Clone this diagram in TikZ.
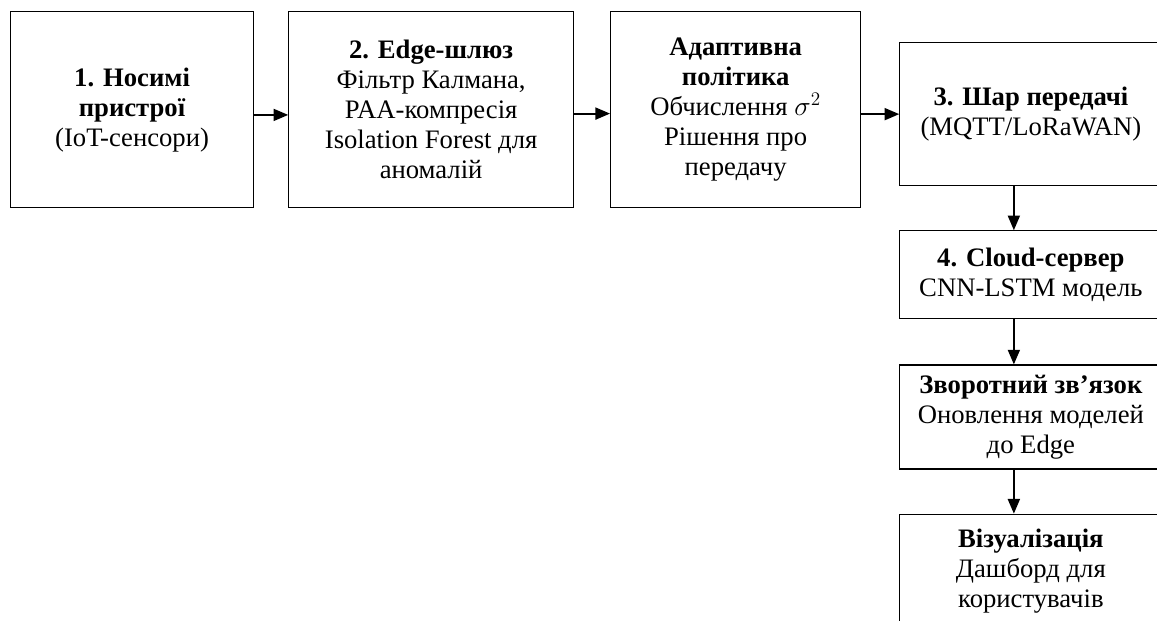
\documentclass[tikz,border=0pt]{standalone}
\usepackage{fontspec}
\setmainfont{Liberation Serif}
\usetikzlibrary{positioning,arrows.meta}

\begin{document}
\begin{tikzpicture}
    \tikzstyle{every path}=[line width=0.9pt]

    \edef\sizerow{147pt}
    \tikzstyle{stage}=[draw,align=center,inner sep=2pt,
                       font=\fontsize{20}{22.5}\selectfont]
    \tikzstyle{sidestage}=[stage,minimum width=196.5pt]
    \tikzstyle{flow}=[line width=1.4pt,-{Triangle[length=11pt,width=9pt]}]

    \useasboundingbox (0,0) rectangle (867.75pt,-465.75pt);

    % Draw top row of stages
    \node [stage,anchor=north west,minimum width=182.25pt,minimum height=\sizerow]
        at (7.5pt,-8.25pt) (wear)
        {\textbf{1. Носимі}\\\textbf{пристрої}\\(IoT-сенсори)};
    \node [stage,right=25.5pt of wear,minimum width=213.5pt,minimum height=\sizerow] (edge)
        {\textbf{2. Edge-шлюз}\\Фільтр Калмана,\\PAA-компресія\\Isolation Forest для\\аномалій};
    \node [stage,right=27pt of edge,minimum width=187.5pt,minimum height=\sizerow] (policy)
        {\textbf{Адаптивна}\\\textbf{політика}\\Обчислення $\sigma^2$\\Рішення про\\передачу};

    % Draw right column of stages
    \node [sidestage,right=28.5pt of policy,yshift=-3.4pt,minimum height=107.25pt] (trans)
        {\textbf{3. Шар передачі}\\(MQTT/LoRaWAN)};
    \node [sidestage,below=33pt of trans,minimum height=66pt] (cloud)
        {\textbf{4. Cloud-сервер}\\CNN-LSTM модель};
    \node [sidestage,below=33.75pt of cloud,minimum height=78pt] (feedback)
        {\textbf{Зворотний зв’язок}\\Оновлення моделей\\до Edge};
    \node [sidestage,below=33pt of feedback,minimum height=85.5pt] (visual)
        {\textbf{Візуалізація}\\Дашборд для\\користувачів};

    % Arrows between stages
    \draw [flow] ([yshift=-4pt]wear.east) -- ([yshift=-4pt]edge.west);
    \draw [flow] ([yshift=-3pt]edge.east) -- ([yshift=-3pt]policy.west);
    \draw [flow] (policy.east |- trans.west) -- (trans.west);
    \draw [flow] ([xshift=-12.75pt]trans.south) -- ([xshift=-12.75pt]cloud.north);
    \draw [flow] ([xshift=-12.75pt]cloud.south) -- ([xshift=-12.75pt]feedback.north);
    \draw [flow] ([xshift=-12.75pt]feedback.south) -- ([xshift=-12.75pt]visual.north);
\end{tikzpicture}
\end{document}
